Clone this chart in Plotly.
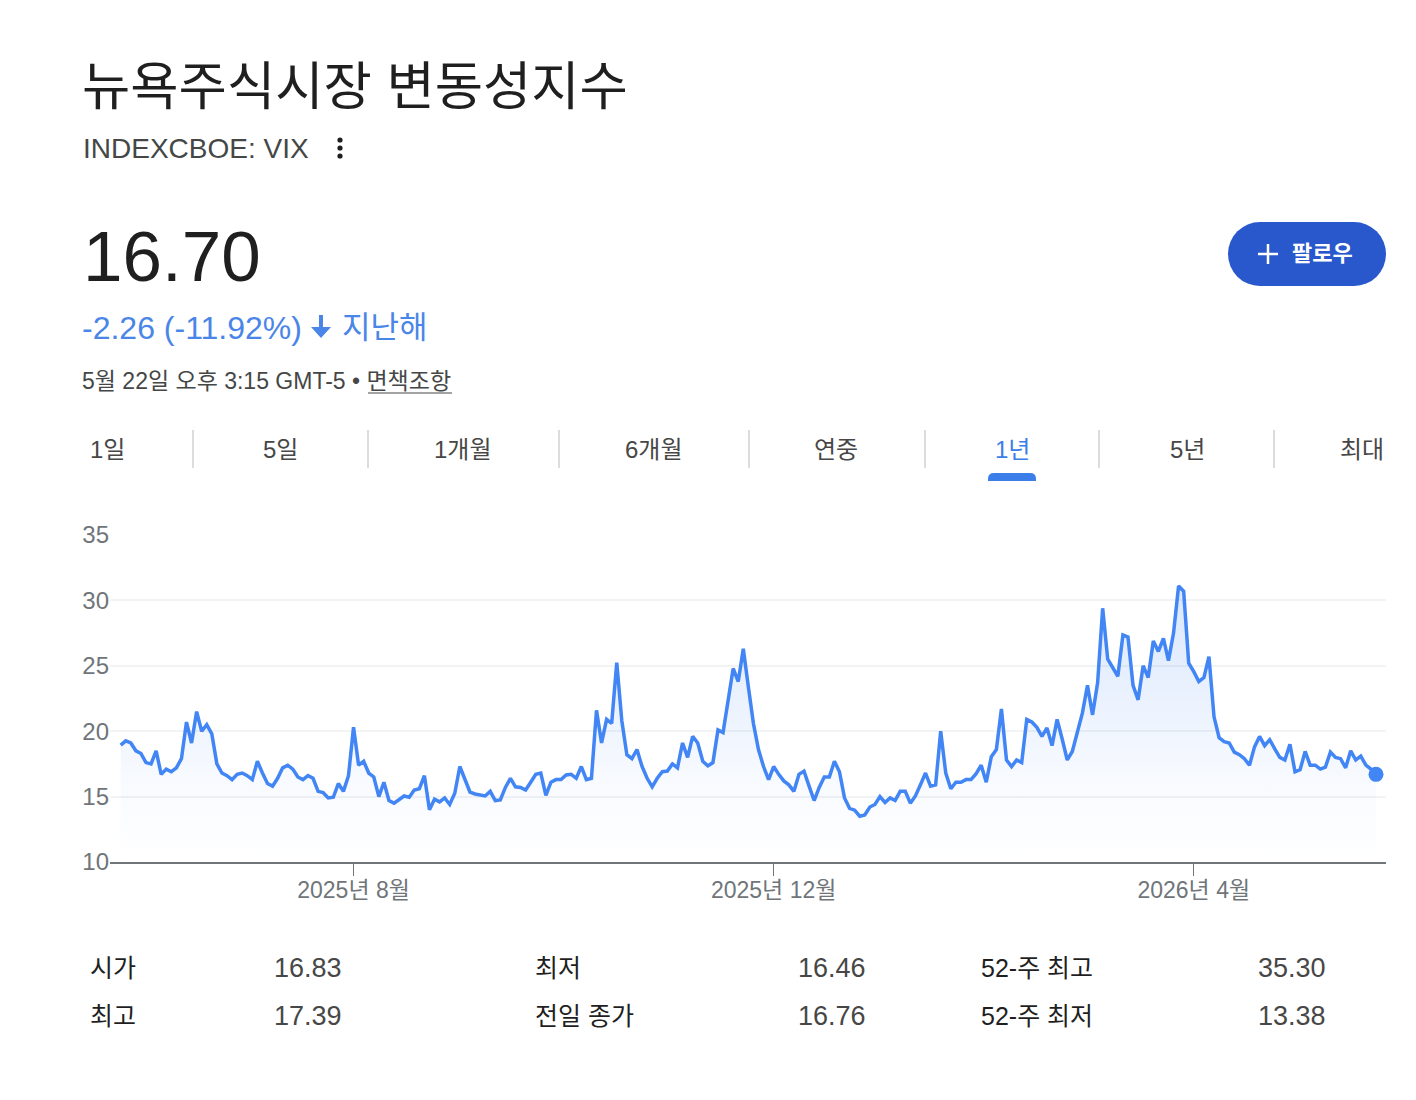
import plotly.graph_objects as go

# the page keeps the browser's 8px body margin, so the figure is 16px smaller
PAGE_W, PAGE_H = 1416, 1100
PAD = 8
W, H = PAGE_W - 2 * PAD, PAGE_H - 2 * PAD
FONT = "Liberation Sans, Noto Sans CJK KR, sans-serif"

# header texts
title_text = "뉴욕주식시장 변동성지수"
ticker_text = "INDEXCBOE: VIX"
last_price = "16.70"
change_text = "-2.26 (-11.92%)"
change_period = "지난해"
timestamp_text = "5월 22일 오후 3:15 GMT-5 • 면책조항"
follow_text = "팔로우"

range_tabs = ["1일", "5일", "1개월", "6개월", "연중", "1년", "5년", "최대"]
active_tab = "1년"

# axis
y_ticks = [10, 15, 20, 25, 30, 35]
x_tick_labels = ["2025년 8월", "2025년 12월", "2026년 4월"]
x_tick_index = [46, 129, 212]   # trading-day index of the first day of each month

# daily closes (one value per trading day)
vix_may_aug = [18.93, 19.26, 19.1, 18.5, 18.3, 17.6, 17.5, 18.5, 16.7, 17.1,
               16.9, 17.2, 17.9, 20.7, 19.1, 21.5, 20.0, 20.5, 19.8, 17.5,
               16.8, 16.6, 16.3, 16.7, 16.8, 16.6, 16.3, 17.7, 16.8, 16.0,
               15.8, 16.4, 17.2, 17.4, 17.1, 16.5, 16.3, 16.6, 16.4, 15.4,
               15.3, 14.9, 14.95, 16.0, 15.4, 16.6, 20.3, 17.4, 17.7, 16.8,
               16.5, 15.0, 16.1, 14.7, 14.5, 14.8, 15.05, 14.95, 15.5, 15.6,
               16.6, 14.0]
vix_aug_nov = [14.8, 14.6, 14.9, 14.4, 15.25, 17.3, 16.3, 15.35, 15.2, 15.1,
               15.05, 15.4, 14.7, 14.75, 15.7, 16.4, 15.75, 15.7, 15.5, 16.1,
               16.7, 16.8, 15.1, 16.1, 16.3, 16.3, 16.65, 16.7, 16.4, 17.3,
               16.3, 16.4, 21.6, 19.1, 20.9, 20.6, 25.25, 20.8, 18.2, 17.9,
               18.6, 17.3, 16.4, 15.75, 16.4, 16.9, 16.95, 17.5, 17.2, 19.1,
               18.0, 19.6, 19.1, 17.7, 17.35, 17.6, 20.1, 19.9, 22.3, 24.8,
               23.8, 26.3]
vix_nov_feb = [23.4, 20.6, 18.6, 17.3, 16.3, 17.3, 16.7, 16.2, 15.9, 15.4,
               16.7, 16.95, 15.8, 14.7, 15.7, 16.5, 16.5, 17.7, 16.9, 14.9,
               14.1, 13.96, 13.5, 13.6, 14.2, 14.4, 15.0, 14.55, 14.9, 14.7,
               15.4, 15.4, 14.5, 15.05, 15.9, 16.8, 15.8, 15.9, 20.0, 16.8,
               15.6, 16.1, 16.1, 16.3, 16.3, 16.75, 17.4, 16.1, 18.05, 18.6,
               21.7, 17.8, 17.3, 17.8, 17.6, 20.9, 20.7, 20.3, 19.6, 20.25,
               18.9, 20.9, 19.4, 17.8]
vix_feb_may = [18.45, 19.85, 21.4, 23.5, 21.25, 23.7, 29.4, 25.5, 24.9, 24.2,
               27.35, 27.2, 23.5, 22.4, 25.0, 24.1, 26.9, 26.1, 27.1, 25.4,
               27.5, 31.1, 30.7, 25.2, 24.55, 23.8, 24.1, 25.7, 21.1, 19.5,
               19.2, 19.1, 18.4, 18.2, 17.9, 17.4, 18.8, 19.6, 18.9, 19.35,
               18.65, 18.0, 17.8, 19.0, 16.9, 17.05, 18.45, 17.4, 17.4, 17.1,
               17.25, 18.4, 18.0, 17.9, 17.2, 18.5, 17.8, 18.1, 17.4, 17.1,
               16.7]

# key stats table
stat_labels_1 = ["시가", "최고"]
stat_values_1 = ["16.83", "17.39"]
stat_labels_2 = ["최저", "전일 종가"]
stat_values_2 = ["16.46", "16.76"]
stat_labels_3 = ["52-주 최고", "52-주 최저"]
stat_values_3 = ["35.30", "13.38"]

vix = vix_may_aug + vix_aug_nov + vix_nov_feb + vix_feb_may
idx = list(range(len(vix)))

LINE = "#4285f4"
BLUE_TXT = "#4a86e8"
GREY = "#70757a"


# page pixel -> paper coordinate
def px(x):
    return (x - PAD) / W


def py(y):
    return 1 - (y - PAD) / H


fig = go.Figure()

fig.add_trace(go.Scatter(
    x=idx, y=vix, mode="lines",
    line=dict(color=LINE, width=3.5),
    fill="tozeroy",
    fillgradient=dict(type="vertical", start=10, stop=31,
                      colorscale=[[0, "rgba(66,133,244,0)"],
                                  [0.3, "rgba(66,133,244,0.04)"],
                                  [1, "rgba(66,133,244,0.2)"]]),
    hoverinfo="skip", showlegend=False,
))
fig.add_trace(go.Scatter(
    x=[idx[-1]], y=[vix[-1]], mode="markers",
    marker=dict(color=LINE, size=15),
    hoverinfo="skip", showlegend=False,
))

step = (1376 - 120.7) / (len(vix) - 1)
fig.update_xaxes(
    domain=[px(110), px(1386)],
    range=[-(120.7 - 110) / step, len(vix) - 1 + 10 / step],
    tickvals=x_tick_index, ticktext=x_tick_labels,
    ticks="outside", ticklen=12, tickwidth=1, tickcolor=GREY,
    ticklabelstandoff=-6,
    showline=True, linecolor=GREY, linewidth=2,
    showgrid=False, zeroline=False, automargin=False,
    tickfont=dict(family=FONT, size=23, color=GREY),
)
fig.update_yaxes(
    domain=[py(862), py(535)],
    range=[10, 35],
    tickvals=y_ticks,
    showgrid=True, gridcolor="#f1f3f4", gridwidth=2,
    zeroline=False, showline=False, ticks="", automargin=False,
    tickfont=dict(family=FONT, size=24, color=GREY),
)


def label(text, x, y, size, color, anchor="left"):
    fig.add_annotation(text=text, x=px(x), y=py(y), xref="paper", yref="paper",
                       xanchor=anchor, yanchor="middle", showarrow=False,
                       font=dict(family=FONT, size=size, color=color))


shapes = []


def line(x0, y0, x1, y1, color, width):
    shapes.append(dict(type="line", xref="paper", yref="paper",
                       x0=px(x0), y0=py(y0), x1=px(x1), y1=py(y1),
                       line=dict(color=color, width=width)))


def circle(cx, cy, r, color):
    shapes.append(dict(type="circle", xref="paper", yref="paper",
                       x0=px(cx - r), x1=px(cx + r), y0=py(cy + r), y1=py(cy - r),
                       fillcolor=color, line=dict(width=0)))


def path(segments, color):
    d = ""
    for cmd, pts in segments:
        d += cmd + " ".join(f"{px(a):.5f},{py(b):.5f}" for a, b in pts) + " "
    shapes.append(dict(type="path", xref="paper", yref="paper", path=d + "Z",
                       fillcolor=color, line=dict(width=0)))


# header
label(title_text, 80, 86, 52.5, "#1f1f1f")
label(ticker_text, 81, 149, 28, "#444746")
for dy in (-8, 0, 8):
    circle(340, 148 + dy, 2.6, "#1f1f1f")
label(last_price, 81, 257, 71, "#1f1f1f")
label(change_text, 80, 328, 32, BLUE_TXT)
path([("M", [(319, 315)]), ("L", [(323, 315)]), ("L", [(323, 327)]),
      ("L", [(331, 327)]), ("L", [(321, 338)]), ("L", [(311, 327)]),
      ("L", [(319, 327)])], BLUE_TXT)
label(change_period, 340, 327, 31, BLUE_TXT)
label(timestamp_text, 80, 381, 23, "#444746")
line(368, 393, 452, 393, "#444746", 1)

# follow button
circle(1260, 254, 32, "#2858cc")
circle(1354, 254, 32, "#2858cc")
shapes.append(dict(type="rect", xref="paper", yref="paper",
                   x0=px(1260), x1=px(1354), y0=py(286), y1=py(222),
                   fillcolor="#2858cc", line=dict(width=0)))
line(1258, 254, 1278, 254, "white", 2.5)
line(1268, 244, 1268, 264, "white", 2.5)
label("<b>" + follow_text + "</b>", 1290, 253, 22, "white")

# range tabs
tab_x = [88, 280, 463, 654, 836, 1012, 1187, 1386]
tab_anchor = ["left"] + ["center"] * 6 + ["right"]
for name, x, anc in zip(range_tabs, tab_x, tab_anchor):
    col = "#3b7de9" if name == active_tab else "#474747"
    label(name, x, 449, 24, col, anc)
for x in [193, 368, 559, 749, 925, 1099, 1274]:
    line(x, 430, x, 468, "#dadce0", 2)
path([("M", [(988, 481)]), ("L", [(988, 479)]), ("Q", [(988, 473), (994, 473)]),
      ("L", [(1030, 473)]), ("Q", [(1036, 473), (1036, 479)]), ("L", [(1036, 481)])],
     "#3b7de9")

# stats table
for col_x, val_x, labs, vals in [(88, 272, stat_labels_1, stat_values_1),
                                 (533, 796, stat_labels_2, stat_values_2),
                                 (979, 1256, stat_labels_3, stat_values_3)]:
    for row_y, lab, val in zip([968, 1016], labs, vals):
        label(lab, col_x, row_y, 25, "#1f1f1f")
        label(val, val_x, row_y, 27, "#474747")

fig.update_layout(
    width=W, height=H,
    margin=dict(l=0, r=0, t=0, b=0),
    paper_bgcolor="white", plot_bgcolor="white",
    shapes=shapes,
    showlegend=False,
)

fig.write_html("out.html", config={"displayModeBar": False})
